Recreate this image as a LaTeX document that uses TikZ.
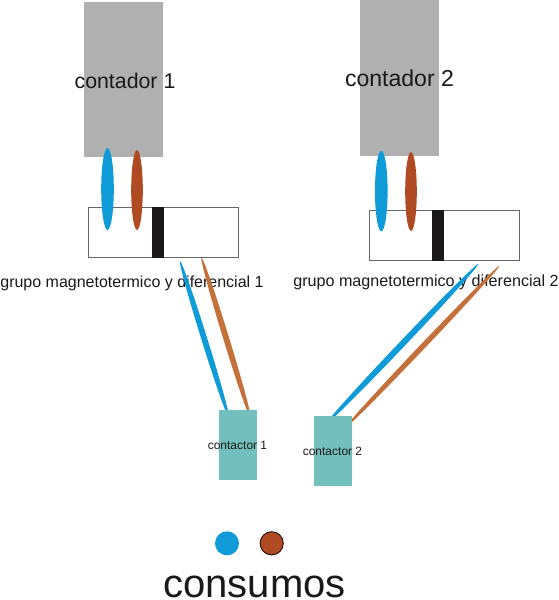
\documentclass[tikz,border=0pt]{standalone}
\usepackage{fontspec}
\usetikzlibrary{calc}
\setmainfont{Liberation Sans}
\definecolor{gris}{HTML}{B0B0B0}
\definecolor{azul}{HTML}{0F9BD7}
\definecolor{marron}{HTML}{B04A22}
\definecolor{naranja}{HTML}{C4703A}
\definecolor{verde}{HTML}{72BFBD}
\definecolor{negro}{HTML}{1A1818}
\tikzset{
  contadorbox/.style={fill=gris,draw=none,inner sep=0pt,minimum width=59.25pt,minimum height=116.5pt},
  grupobox/.style={draw=black!60,line width=0.75pt,fill=white,inner sep=0pt,minimum width=112.5pt,minimum height=37.8pt},
  contactorbox/.style={fill=verde,draw=none,inner sep=0pt,minimum width=28.5pt,minimum height=52.5pt},
  barra/.style={fill=negro,draw=none,inner sep=0pt,minimum width=9pt,minimum height=38.5pt},
  etiqueta/.style={inner sep=0pt,text=black!90}
}
\newcommand{\cable}[4]{\fill[#1] let \p1=($(#3)-(#2)$), \n1={atan2(\y1,\x1)}, \n2={veclen(\x1,\y1)/2} in ($(#2)!.5!(#3)$) ellipse [x radius=\n2, y radius=#4, rotate=\n1];}
\begin{document}
\begin{tikzpicture}[x=0.75pt,y=-0.75pt]
  \useasboundingbox (0,0) rectangle (559,600);
  % contadores
  \node[contadorbox] (contador1) at (123.5,79.5) {};
  \node[contadorbox] (contador2) at (399.5,78) {};
  \node[etiqueta,font=\fontsize{16}{18}\selectfont] (txtcontador1) at (125,81) {contador 1};
  \node[etiqueta,font=\fontsize{17.3}{19}\selectfont] (txtcontador2) at (399.5,78) {contador 2};
  % grupos
  \node[grupobox] (grupo1) at (163.4,232.2) {};
  \node[grupobox] (grupo2) at (444,235.6) {};
  \node[barra] (barra1) at (157.7,232.2) {};
  \node[barra] (barra2) at (438.3,235.6) {};
  % entradas
  \fill[azul] (107.5,189) ellipse (6.3 and 41);
  \fill[marron] (137,190) ellipse (5.8 and 40);
  \fill[azul] (381.3,191) ellipse (6.3 and 40.3);
  \fill[marron] (411,191.5) ellipse (5.8 and 39.5);
  % textos de los grupos
  \node[etiqueta,font=\fontsize{12}{14}\selectfont] (txtgrupo1) at (132,283) {grupo magnetotermico y diferencial 1};
  \node[etiqueta,font=\fontsize{12.1}{14}\selectfont] (txtgrupo2) at (426,282) {grupo magnetotermico y diferencial 2};
  % cables 1
  \coordinate (azul1a) at (180,261);
  \coordinate (azul1b) at (229,418);
  \coordinate (naranja1a) at (201.5,257.7);
  \coordinate (naranja1b) at (250.6,418);
  \cable{azul}{azul1a}{azul1b}{2.2pt}
  \cable{naranja}{naranja1a}{naranja1b}{2.2pt}
  % cables 2
  \coordinate (azul2a) at (478.3,264);
  \coordinate (azul2b) at (326,424);
  \coordinate (naranja2a) at (499.3,266);
  \coordinate (naranja2b) at (345,428);
  \cable{azul}{azul2a}{azul2b}{2.3pt}
  \cable{naranja}{naranja2a}{naranja2b}{2pt}
  % contactores
  \node[contactorbox] (contactor1) at (238,445.2) {};
  \node[contactorbox] (contactor2) at (332.7,451) {};
  \node[etiqueta,font=\fontsize{9}{11}\selectfont] (txtcontactor1) at (237.5,445) {contactor 1};
  \node[etiqueta,font=\fontsize{9}{11}\selectfont] (txtcontactor2) at (332.5,451) {contactor 2};
  % consumos
  \fill[azul] (227,543.3) circle (12);
  \draw[fill=marron,draw=black!80!marron,line width=0.7pt] (271.7,543.3) circle (11.6);
  \node[etiqueta,anchor=base,font=\fontsize{30}{34}\selectfont] (txtconsumos) at (254.5,597) {consumos};
\end{tikzpicture}
\end{document}
